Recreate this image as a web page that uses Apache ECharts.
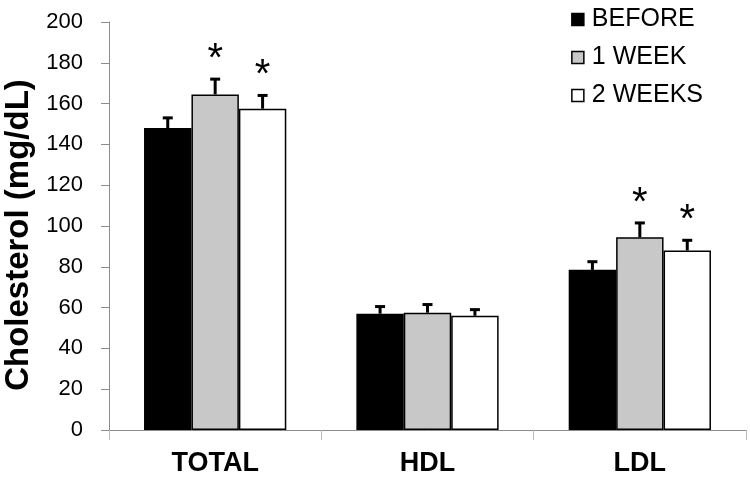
<!DOCTYPE html>
<html>
<head>
<meta charset="utf-8">
<script src="https://cdn.jsdelivr.net/npm/echarts@6/dist/echarts.min.js"></script>
<style>
  html, body { margin: 0; padding: 0; background: #fff; }
  #chart { width: 750px; height: 479px; }
</style>
</head>
<body>
<div id="chart"></div>
<script>
// data
const categories = ["TOTAL", "HDL", "LDL"];
const seriesNames = ["BEFORE", "1 WEEK", "2 WEEKS"];
const before = [148, 57, 78.5];
const week1 = [164.5, 57.5, 94.5];
const week2 = [157.5, 56, 88];
const beforeErr = [5, 3.5, 4];
const week1Err = [7.5, 4, 7];
const week2Err = [6.5, 3, 5];
const beforeSig = [false, false, false];
const week1Sig = [true, false, true];
const week2Sig = [true, false, true];
const yTicks = [0, 20, 40, 60, 80, 100, 120, 140, 160, 180, 200];

const colors = ["#000000", "#c8c8c8", "#ffffff"];
const values = [before, week1, week2];
const errs = [beforeErr, week1Err, week2Err];
const sigs = [beforeSig, week1Sig, week2Sig];
const gapRatio = 0.33;

const chart = echarts.init(document.getElementById("chart"));

function errorSeries(idx) {
  const data = categories.map((c, i) => [i, values[idx][i], errs[idx][i], sigs[idx][i] ? 1 : 0]);
  return {
    type: "custom",
    name: seriesNames[idx] + " err",
    z: 10,
    data: data,
    renderItem: function (params, api) {
      const catIdx = api.value(0);
      const val = api.value(1);
      const err = api.value(2);
      const sig = api.value(3);
      const catW = api.size([1, 0])[0];
      const bw = catW * (1 - gapRatio) / 3;
      const base = api.coord([catIdx, val]);
      const x = base[0] + (idx - 1) * bw;
      const yTop = api.coord([catIdx, val + err])[1];
      const yVal = base[1];
      const children = [
        {
          type: "line",
          shape: { x1: x, y1: yVal, x2: x, y2: yTop },
          style: { stroke: "#000", lineWidth: 3 },
        },
        {
          type: "line",
          shape: { x1: x - 5, y1: yTop, x2: x + 5, y2: yTop },
          style: { stroke: "#000", lineWidth: 3 },
        },
      ];
      if (sig) {
        children.push({
          type: "text",
          x: x,
          y: yTop + 1,
          style: {
            text: "*",
            fontSize: 40,
            fontFamily: "Liberation Sans",
            fill: "#000",
            align: "center",
            verticalAlign: "bottom",
          },
        });
      }
      return { type: "group", children: children };
    },
  };
}

const option = {
  animation: false,
  backgroundColor: "#fff",
  grid: { left: 109, right: 4, top: 22, bottom: 49, outerBoundsMode: "none", containLabel: false },
  legend: {
    orient: "vertical",
    right: 42,
    top: 2,
    itemWidth: 12,
    itemHeight: 12,
    itemGap: 13,
    icon: "rect",
    data: seriesNames,
    itemStyle: { borderColor: "#000", borderWidth: 1.5 },
    textStyle: {
      fontFamily: "Liberation Sans",
      fontSize: 25,
      lineHeight: 25,
      color: "#000",
      padding: [0, 0, 0, 3],
    },
  },
  xAxis: {
    type: "category",
    data: categories,
    axisLine: { lineStyle: { color: "#8c8c8c", width: 1 } },
    axisTick: { show: true, length: 10, lineStyle: { color: "#bbb" } },
    axisLabel: {
      fontFamily: "Liberation Sans",
      fontWeight: "bold",
      fontSize: 27,
      color: "#000",
      margin: 20,
    },
  },
  yAxis: {
    type: "value",
    min: yTicks[0],
    max: yTicks[yTicks.length - 1],
    interval: 20,
    name: "Cholesterol (mg/dL)",
    nameLocation: "middle",
    nameGap: 70,
    nameTextStyle: {
      fontFamily: "Liberation Sans",
      fontWeight: "bold",
      fontSize: 33,
      color: "#000",
      padding: [0, 18, 0, 0],
    },
    axisLine: { show: true, lineStyle: { color: "#8c8c8c", width: 1 } },
    axisTick: { show: true, length: 8, lineStyle: { color: "#8c8c8c" } },
    splitLine: { show: false },
    axisLabel: {
      fontFamily: "Liberation Sans",
      fontSize: 22,
      color: "#000",
      margin: 26,
    },
  },
  series: [
    ...seriesNames.map((name, idx) => ({
      type: "bar",
      name: name,
      data: values[idx],
      barGap: "0%",
      barCategoryGap: gapRatio * 100 + "%",
      itemStyle: { color: colors[idx], borderColor: "#000", borderWidth: 1.5 },
    })),
    errorSeries(0),
    errorSeries(1),
    errorSeries(2),
  ],
};

chart.setOption(option);
</script>
</body>
</html>
